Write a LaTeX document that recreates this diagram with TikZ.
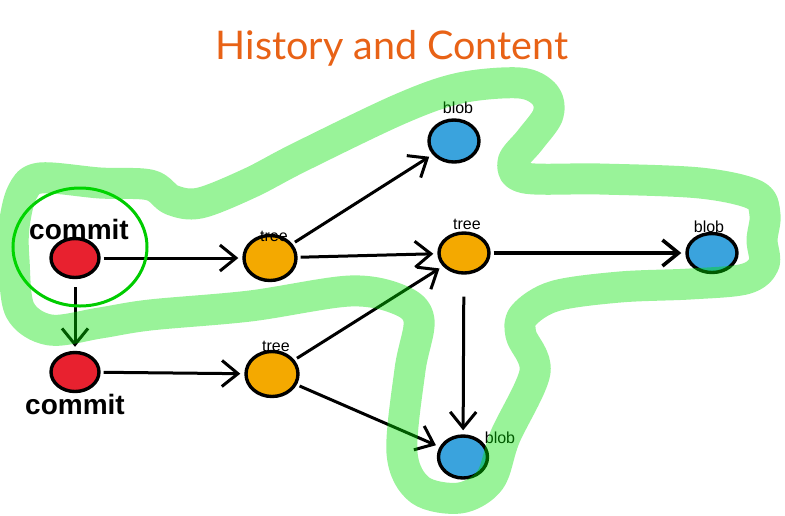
\documentclass[tikz,border=0pt]{standalone}
\usepackage{fontspec}
\setmainfont{Liberation Sans}
\newfontfamily\titlefont{Lato}
\usetikzlibrary{arrows.meta,shapes.geometric}
\definecolor{titleorange}{RGB}{232,98,22}
\definecolor{commitred}{RGB}{232,33,47}
\definecolor{treeorange}{RGB}{244,169,0}
\definecolor{blobblue}{RGB}{58,163,221}
\definecolor{ringgreen}{RGB}{0,204,0}
\definecolor{bandgreen}{RGB}{0,225,0}

\begin{document}
\begin{tikzpicture}[x=1pt,y=-1pt,
  obj/.style={ellipse,draw=black,line width=3.4pt,inner sep=0pt,minimum width=48pt,minimum height=39pt},
  commitobj/.style={obj,fill=commitred},
  treeobj/.style={obj,fill=treeorange,minimum width=52pt,minimum height=45pt},
  blobobj/.style={obj,fill=blobblue,minimum width=50pt,minimum height=42pt},
  bigtag/.style={font=\bfseries\fontsize{28}{30}\selectfont},
  smalltag/.style={font=\fontsize{16}{18}\selectfont},
  link/.style={line width=3pt,-{Straight Barb[length=16pt,width=26pt]},shorten <=3pt,shorten >=4pt}]
\useasboundingbox (0,0) rectangle (785,515);
\node[font=\titlefont\fontsize{39.5}{42}\selectfont,text=titleorange] (title) at (392,48) {History and Content};
\node[commitobj] (c1) at (75,258) {};
\node[commitobj] (c2) at (75,372) {};
\node[treeobj] (t1) at (270,258) {};
\node[treeobj] (t2) at (272,374) {};
\node[treeobj,minimum width=50pt,minimum height=40pt] (t3) at (464,253) {};
\node[blobobj] (bT) at (454,141) {};
\node[blobobj,minimum height=39pt] (bR) at (712,253) {};
\node[blobobj,minimum width=49pt] (bB) at (463,457) {};
\node[bigtag] (c1tag) at (79,229) {commit};
\node[bigtag] (c2tag) at (75,404) {commit};
\node[smalltag] (t1tag) at (274,236) {tree};
\node[smalltag] (t2tag) at (276,346) {tree};
\node[smalltag] (t3tag) at (467,224) {tree};
\node[smalltag] (bTtag) at (458,108) {blob};
\node[smalltag] (bRtag) at (709,227) {blob};
\node[smalltag] (bBtag) at (500,438) {blob};
\draw[link] (c1) -- (t1);
\draw[link,shorten <=8pt] (c1) -- (c2);
\draw[link] (c2) -- (t2);
\draw[link] (t1) -- (bT);
\draw[link] (t1) -- (t3);
\draw[link] (t2) -- (t3);
\draw[link] (t2) -- (bB);
\draw[link,line width=3.6pt] (t3) -- (bR);
\draw[link,shorten <=22pt] (t3) -- (bB);
\draw[ringgreen,line width=3pt] (80,247) ellipse [x radius=67,y radius=59];
\draw[bandgreen,draw opacity=0.4,line width=31pt,line join=round]
  plot[smooth cycle,tension=0.55] coordinates {
  (40,178) (100,183) (150,185) (172,200) (200,203) (250,183) (300,157) (400,109)
  (460,88) (520,83) (545,95) (548,115) (530,140) (513,162) (525,178) (600,179)
  (700,183) (755,195) (765,215) (762,240) (764,264) (745,279) (690,284) (620,287)
  (555,296) (524,315) (521,335) (535,372) (505,437) (490,480) (460,498) (420,490) (402,453)
  (410,370) (419,320) (400,300) (350,291) (250,306) (150,315) (100,323) (50,330)
  (20,310) (14,260) (14,227) (22,193)};
\end{tikzpicture}
\end{document}
